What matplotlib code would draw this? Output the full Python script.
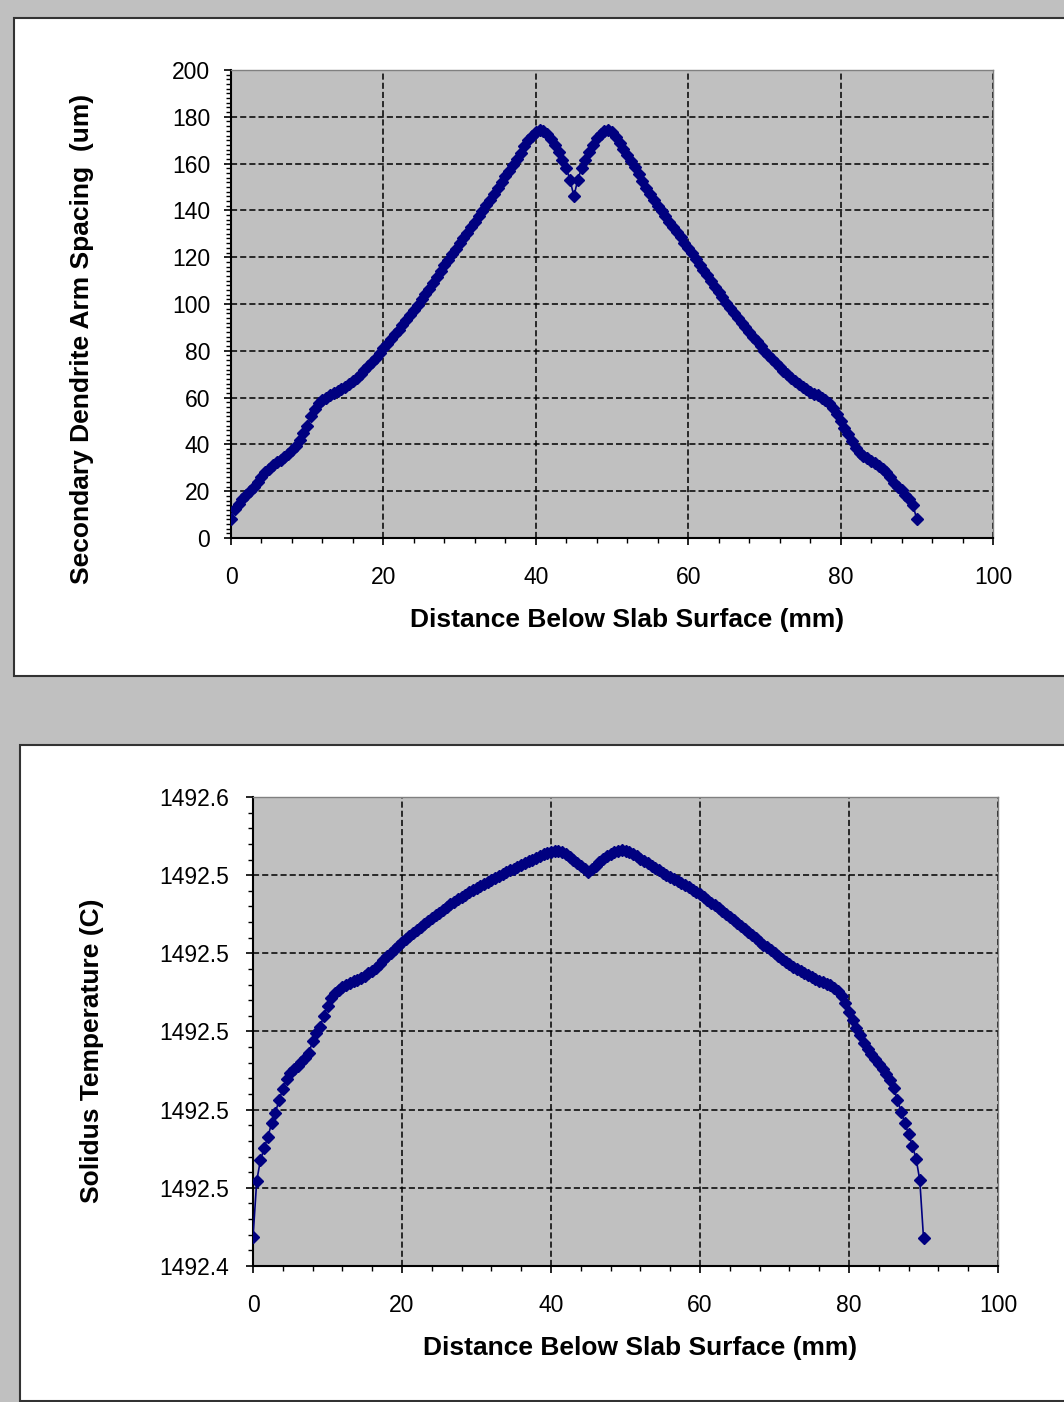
import matplotlib
matplotlib.use("Agg")
import matplotlib.pyplot as plt
from matplotlib.patches import Rectangle
from matplotlib.ticker import FixedLocator, MultipleLocator, FormatStrFormatter

# distance below slab surface, mm
distance_mm = [
    0, 0.5, 1, 1.5, 2, 2.5, 3, 3.5, 4, 4.5,
    5, 5.5, 6, 6.5, 7, 7.5, 8, 8.5, 9, 9.5,
    10, 10.5, 11, 11.5, 12, 12.5, 13, 13.5, 14, 14.5,
    15, 15.5, 16, 16.5, 17, 17.5, 18, 18.5, 19, 19.5,
    20, 20.5, 21, 21.5, 22, 22.5, 23, 23.5, 24, 24.5,
    25, 25.5, 26, 26.5, 27, 27.5, 28, 28.5, 29, 29.5,
    30, 30.5, 31, 31.5, 32, 32.5, 33, 33.5, 34, 34.5,
    35, 35.5, 36, 36.5, 37, 37.5, 38, 38.5, 39, 39.5,
    40, 40.5, 41, 41.5, 42, 42.5, 43, 43.5, 44, 44.5,
    45, 45.5, 46, 46.5, 47, 47.5, 48, 48.5, 49, 49.5,
    50, 50.5, 51, 51.5, 52, 52.5, 53, 53.5, 54, 54.5,
    55, 55.5, 56, 56.5, 57, 57.5, 58, 58.5, 59, 59.5,
    60, 60.5, 61, 61.5, 62, 62.5, 63, 63.5, 64, 64.5,
    65, 65.5, 66, 66.5, 67, 67.5, 68, 68.5, 69, 69.5,
    70, 70.5, 71, 71.5, 72, 72.5, 73, 73.5, 74, 74.5,
    75, 75.5, 76, 76.5, 77, 77.5, 78, 78.5, 79, 79.5,
    80, 80.5, 81, 81.5, 82, 82.5, 83, 83.5, 84, 84.5,
    85, 85.5, 86, 86.5, 87, 87.5, 88, 88.5, 89, 89.5,
    90,
]

# secondary dendrite arm spacing, um
sdas_um = [
    8, 12.5, 14.5, 16.5, 18.5, 20, 22, 24, 26, 28,
    29.5, 31, 32.5, 33.5, 34.5, 36, 37.5, 39.5, 42, 45,
    48, 52, 55, 57.5, 59, 60, 61, 62, 63, 63.8,
    64.5, 65.7, 67, 68.5, 70, 71.7, 73.5, 75.2, 77, 79,
    81, 83, 85, 87, 89, 91, 93.2, 95.3, 97.5, 99.7,
    102, 104.2, 106.5, 109, 111.5, 114, 116.5, 118.8, 121.2, 123.6,
    126, 128.2, 130.5, 132.8, 135, 137.4, 139.8, 142.2, 144.5, 147,
    149.5, 152, 154.5, 157, 159.5, 162, 164.5, 167.5, 170, 172,
    173.5, 174.5, 174, 172.5, 170.5, 168, 165, 161.5, 158, 153,
    146, 153, 158, 161.5, 165, 168, 170.8, 172.8, 174, 174.5,
    173.5, 171.5, 169, 166.2, 163.5, 161, 158.5, 155.5, 152.5, 149.7,
    147, 144.5, 142, 139.8, 137.5, 135.2, 133, 130.8, 128.5, 126.2,
    124, 121.6, 119.2, 116.8, 114.5, 112.2, 109.8, 107.4, 105, 102.8,
    100.5, 98.2, 96, 94, 92, 90, 88, 86, 84, 82,
    80, 78.2, 76.5, 74.7, 73, 71.5, 70, 68.5, 67, 65.7,
    64.5, 63.5, 62.5, 61.7, 61, 60, 59, 57.5, 55.5, 53,
    50, 47, 44.5, 41.5, 38.5, 36.5, 35, 34, 33, 32,
    30.8, 29.5, 28, 26, 23.5, 22, 20.5, 18.5, 16.5, 14,
    8,
]

# solidus temperature, C
solidus_c = [
    1492.4473, 1492.4618, 1492.4671, 1492.4701, 1492.4731, 1492.4765, 1492.4792, 1492.4825, 1492.4852, 1492.4878,
    1492.4893, 1492.4903, 1492.4913, 1492.4922, 1492.4932, 1492.4945, 1492.4975, 1492.4995, 1492.5012, 1492.5040,
    1492.5066, 1492.5086, 1492.5098, 1492.5106, 1492.5113, 1492.5118, 1492.5123, 1492.5128, 1492.5132, 1492.5137,
    1492.5143, 1492.5149, 1492.5155, 1492.5163, 1492.5172, 1492.5182, 1492.5192, 1492.5202, 1492.5211, 1492.5220,
    1492.5228, 1492.5236, 1492.5244, 1492.5252, 1492.5260, 1492.5268, 1492.5276, 1492.5283, 1492.5290, 1492.5297,
    1492.5304, 1492.5311, 1492.5318, 1492.5325, 1492.5332, 1492.5338, 1492.5344, 1492.5350, 1492.5356, 1492.5362,
    1492.5367, 1492.5373, 1492.5378, 1492.5383, 1492.5388, 1492.5393, 1492.5397, 1492.5402, 1492.5407, 1492.5412,
    1492.5417, 1492.5422, 1492.5427, 1492.5431, 1492.5435, 1492.5440, 1492.5445, 1492.5449, 1492.5453, 1492.5457,
    1492.5460, 1492.5462, 1492.5461, 1492.5458, 1492.5453, 1492.5447, 1492.5440, 1492.5432, 1492.5424, 1492.5416,
    1492.5408, 1492.5416, 1492.5424, 1492.5433, 1492.5442, 1492.5449, 1492.5455, 1492.5460, 1492.5463, 1492.5464,
    1492.5462, 1492.5458, 1492.5453, 1492.5448, 1492.5442, 1492.5436, 1492.5430, 1492.5424, 1492.5418, 1492.5412,
    1492.5406, 1492.5400, 1492.5395, 1492.5390, 1492.5385, 1492.5380, 1492.5374, 1492.5369, 1492.5363, 1492.5358,
    1492.5352, 1492.5345, 1492.5337, 1492.5330, 1492.5323, 1492.5315, 1492.5308, 1492.5300, 1492.5293, 1492.5285,
    1492.5277, 1492.5270, 1492.5262, 1492.5254, 1492.5246, 1492.5238, 1492.5230, 1492.5222, 1492.5215, 1492.5208,
    1492.5200, 1492.5193, 1492.5186, 1492.5179, 1492.5172, 1492.5166, 1492.5160, 1492.5155, 1492.5150, 1492.5145,
    1492.5140, 1492.5135, 1492.5130, 1492.5126, 1492.5122, 1492.5118, 1492.5112, 1492.5103, 1492.5092, 1492.5072,
    1492.5050, 1492.5030, 1492.5008, 1492.4990, 1492.4970, 1492.4956, 1492.4942, 1492.4930, 1492.4918, 1492.4905,
    1492.4892, 1492.4877, 1492.4855, 1492.4825, 1492.4795, 1492.4765, 1492.4738, 1492.4708, 1492.4675, 1492.4620,
    1492.4472,
]

distance_ticks = [0, 20, 40, 60, 80, 100]
sdas_ticks = [0, 20, 40, 60, 80, 100, 120, 140, 160, 180, 200]
solidus_ticks = [1492.44, 1492.46, 1492.48, 1492.50, 1492.52, 1492.54, 1492.56]

XLABEL = "Distance Below Slab Surface (mm)"
SDAS_LABEL = "Secondary Dendrite Arm Spacing  (um)"
SOLIDUS_LABEL = "Solidus Temperature (C)"

W, H = 1064, 1402
NAVY = "#000080"
GREY = "#c0c0c0"

plt.rcParams["font.family"] = ["Liberation Sans", "DejaVu Sans"]


def px_box(left, top, right, bottom):
    """pixel box (y down) -> figure fraction [l, b, w, h]"""
    return [left / W, 1 - bottom / H, (right - left) / W, (bottom - top) / H]


def panel(fig, left, top, right, bottom):
    fig.patches.append(
        Rectangle(
            (left / W, 1 - bottom / H),
            (right - left) / W,
            (bottom - top) / H,
            transform=fig.transFigure,
            facecolor="white",
            edgecolor="#333333",
            linewidth=1.5,
            zorder=-1,
        )
    )


def chart(ax, y, ylabel, yticks, ylim, yminor, yfmt, ypad, xlab_y, ylab_x, ylab_y):
    ax.set_facecolor(GREY)
    ax.plot(
        distance_mm, y, color=NAVY, linewidth=1.2,
        marker="D", markersize=6.6, markerfacecolor=NAVY,
        markeredgecolor=NAVY, markeredgewidth=1.0, zorder=3,
    )
    ax.set_xlim(0, 100)
    ax.set_ylim(*ylim)
    ax.xaxis.set_major_locator(FixedLocator(distance_ticks))
    ax.xaxis.set_minor_locator(MultipleLocator(4))
    ax.yaxis.set_major_locator(FixedLocator(yticks))
    ax.yaxis.set_minor_locator(MultipleLocator(yminor))
    ax.yaxis.set_major_formatter(FormatStrFormatter(yfmt))

    ax.set_axisbelow(True)
    ax.grid(True, which="major", color="black", linewidth=1.1,
            linestyle=(0, (4, 2)))

    for side in ["left", "bottom"]:
        ax.spines[side].set_color("black")
        ax.spines[side].set_linewidth(1.5)
    for side in ["top", "right"]:
        ax.spines[side].set_color("#808080")
        ax.spines[side].set_linewidth(1.0)

    ax.tick_params(which="major", direction="out", length=5, width=1.2,
                   labelsize=16.5, color="black")
    ax.tick_params(which="minor", direction="out", length=3.5, width=1.0,
                   color="black")
    ax.tick_params(axis="x", which="major", pad=15.5)
    ax.tick_params(axis="y", which="major", pad=ypad)

    ax.set_xlabel(XLABEL, fontsize=19, fontweight="bold")
    ax.xaxis.set_label_coords(0.52, xlab_y)
    ax.xaxis.label.set_va("center")
    ax.set_ylabel(ylabel, fontsize=19, fontweight="bold")
    ax.yaxis.set_label_coords(ylab_x, ylab_y)
    ax.yaxis.label.set_va("center")
    ax.yaxis.label.set_ha("center")


fig = plt.figure(figsize=(W / 100, H / 100), dpi=100, facecolor=GREY)

panel(fig, 14, 18, 1080, 676)
panel(fig, 20, 745, 1080, 1401)

ax1 = fig.add_axes(px_box(231, 70, 993, 538))
chart(ax1, sdas_um, SDAS_LABEL, sdas_ticks, (0, 200), 2, "%d", 10,
      -0.175, -0.196, 0.425)

ax2 = fig.add_axes(px_box(253, 797, 998, 1266))
chart(ax2, solidus_c, SOLIDUS_LABEL, solidus_ticks, (1492.44, 1492.56), 0.004,
      "%.1f", 12, -0.175, -0.216, 0.46)

fig.savefig("out.png", dpi=100, facecolor=GREY)
